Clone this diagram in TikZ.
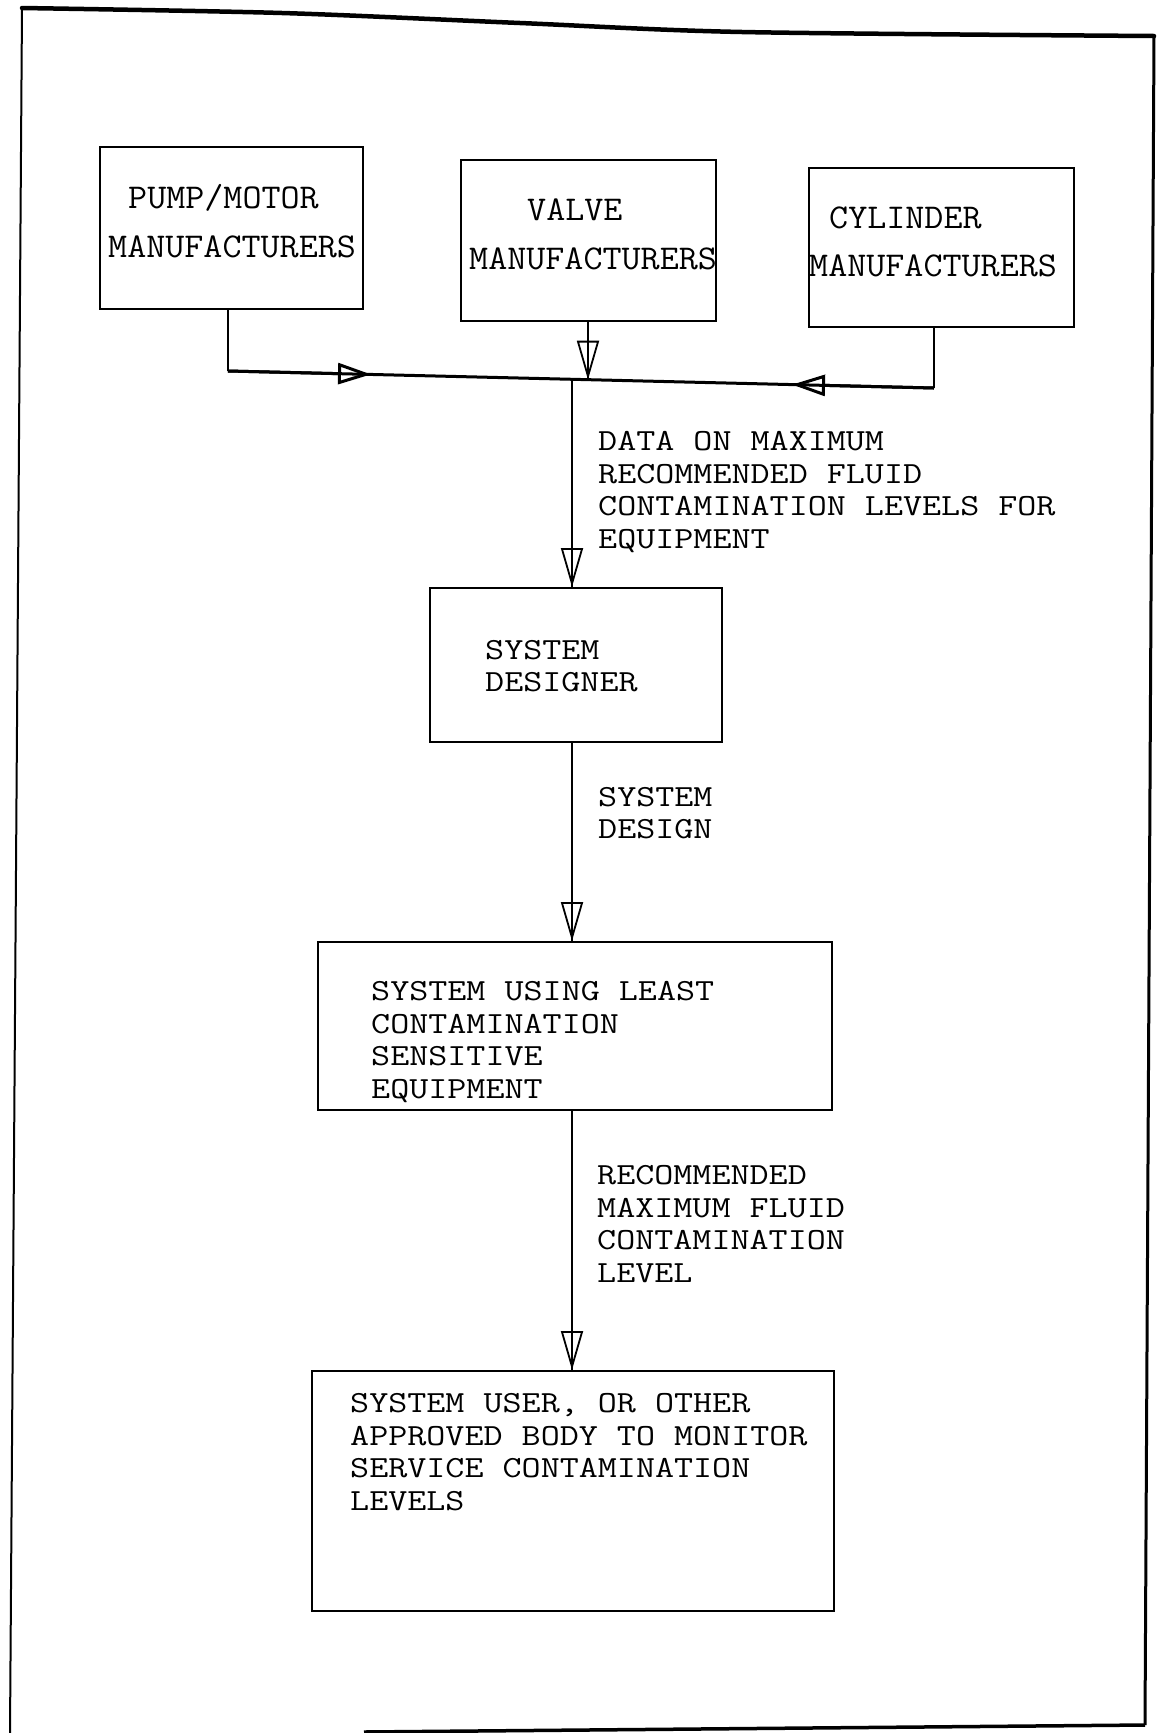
\documentclass[tikz,border=0pt]{standalone}
\usepackage{fontspec}
\usepackage{graphicx}
\usetikzlibrary{arrows.meta}
\newcommand\stretchtxt[1]{\scalebox{1}[0.94]{#1}}
\newcommand\ttlines[1]{\scalebox{1}[0.83]{\begin{tabular}{@{}l@{}}#1\end{tabular}}}
\begin{document}
\begin{tikzpicture}[x=1pt,y=-1pt,
  boxx/.style={draw, line width=2.2pt, inner sep=0pt, anchor=north west},
  lbl/.style={font=\ttfamily\fontsize{37}{39}\selectfont, anchor=west, inner sep=0pt},
  toptxt/.style={font=\ttfamily\fontsize{37}{39}\selectfont, anchor=west, inner sep=0pt},
  wire/.style={line width=1.8pt},
  buss/.style={line width=3pt},
  vtip/.style={-{Triangle[open,length=39pt,width=22pt]}},
  htip/.style={-{Triangle[open,length=33pt,width=21pt]}}]
\useasboundingbox (0,0) rectangle (1164,1733);
% frame
\draw[line width=4.5pt, line cap=round] plot[smooth] coordinates {(22,8) (282,13) (520,23) (742,32) (1154,36)};
\draw[line width=3pt] (1154,36) -- (1145,1725);
\draw[line width=3.5pt] (1145,1725) -- (364,1732);
\draw[line width=2pt] (22,8) -- (10,1733);
% boxes
\node[boxx, minimum width=263pt, minimum height=162pt] (pump) at (99,146) {};
\node[boxx, minimum width=255pt, minimum height=161pt] (valve) at (460,159) {};
\node[boxx, minimum width=265pt, minimum height=159pt] (cyl) at (808,167) {};
\node[boxx, minimum width=292pt, minimum height=154pt] (dsg) at (429,587) {};
\node[boxx, minimum width=514pt, minimum height=168pt] (sys) at (317,941) {};
\node[boxx, minimum width=522pt, minimum height=240pt] (usr) at (311,1370) {};
% box texts
\node[toptxt] (pumpa) at (128,198) {\stretchtxt{PUMP/MOTOR}};
\node[toptxt] (pumpb) at (108,247) {\stretchtxt{MANUFACTURERS}};
\node[toptxt] (valvea) at (527,210) {\stretchtxt{VALVE}};
\node[toptxt] (valveb) at (469,259) {\stretchtxt{MANUFACTURERS}};
\node[toptxt] (cyla) at (829,218) {\stretchtxt{CYLINDER}};
\node[toptxt] (cylb) at (809,266) {\stretchtxt{MANUFACTURERS}};
\node[lbl] (td) at (485,669) {\ttlines{SYSTEM\\DESIGNER}};
\node[lbl] (t3) at (371,1043) {\ttlines{SYSTEM USING LEAST\\CONTAMINATION\\SENSITIVE\\EQUIPMENT}};
\node[lbl] (t4) at (350,1455) {\ttlines{SYSTEM USER, OR OTHER\\APPROVED BODY TO MONITOR\\SERVICE CONTAMINATION\\LEVELS}};
% connector labels
\node[lbl] (l1) at (598,493) {\ttlines{DATA ON MAXIMUM\\RECOMMENDED FLUID\\CONTAMINATION LEVELS FOR\\EQUIPMENT}};
\node[lbl] (l2) at (598,816) {\ttlines{SYSTEM\\DESIGN}};
\node[lbl] (l3) at (597,1227) {\ttlines{RECOMMENDED\\MAXIMUM FLUID\\CONTAMINATION\\LEVEL}};
% connector points
\coordinate (col) at (572,0);
\coordinate (pc) at (228,371);
\coordinate (pa) at (371,374.4);
\coordinate (jv) at (588,379.7);
\coordinate (jd) at (572,379.3);
\coordinate (cc) at (934,388);
\coordinate (ca) at (792,384.6);
% collecting bus
\draw[wire] (pump.south -| pc) -- (pc);
\draw[buss] (pc) -- (cc);
\draw[wire] (cyl.south -| cc) -- (cc);
\draw[buss, htip] (pc) -- (pa);
\draw[buss, htip] (cc) -- (ca);
\draw[wire] (valve.south -| jv) -- (jv);
\draw[wire, vtip] (valve.south -| jv) -- (jv);
% main column
\draw[wire] (jd) -- (dsg.north -| col);
\draw[wire, vtip] (jd) -- (dsg.north -| col);
\draw[wire] (dsg.south -| col) -- (sys.north -| col);
\draw[wire, vtip] (dsg.south -| col) -- (sys.north -| col);
\draw[wire] (sys.south -| col) -- (usr.north -| col);
\draw[wire, vtip] (sys.south -| col) -- (usr.north -| col);
\end{tikzpicture}
\end{document}
